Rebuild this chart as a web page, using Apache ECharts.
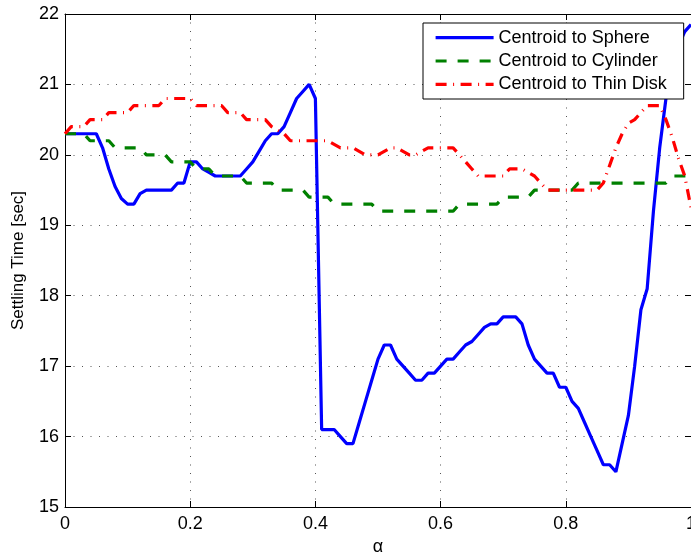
<!DOCTYPE html>
<html>
<head>
<meta charset="utf-8">
<script src="https://cdn.jsdelivr.net/npm/echarts@6/dist/echarts.min.js"></script>
<style>
html,body{margin:0;padding:0;background:#fff;}
#chart{width:691px;height:557px;}
</style>
</head>
<body>
<div id="chart"></div>
<script>
const alpha = [0,0.01,0.02,0.03,0.04,0.05,0.06,0.07,0.08,0.09,
0.10,0.11,0.12,0.13,0.14,0.15,0.16,0.17,0.18,0.19,
0.20,0.21,0.22,0.23,0.24,0.25,0.26,0.27,0.28,0.29,
0.30,0.31,0.32,0.33,0.34,0.35,0.36,0.37,0.38,0.39,
0.40,0.41,0.42,0.43,0.44,0.45,0.46,0.47,0.48,0.49,
0.50,0.51,0.52,0.53,0.54,0.55,0.56,0.57,0.58,0.59,
0.60,0.61,0.62,0.63,0.64,0.65,0.66,0.67,0.68,0.69,
0.70,0.71,0.72,0.73,0.74,0.75,0.76,0.77,0.78,0.79,
0.80,0.81,0.82,0.83,0.84,0.85,0.86,0.87,0.88,0.89,
0.90,0.91,0.92,0.93,0.94,0.95,0.96,0.97,0.98,0.99,1.00];

const sphere = [20.3,20.3,20.3,20.3,20.3,20.3,20.1,19.8,19.55,19.38,
19.3,19.3,19.45,19.5,19.5,19.5,19.5,19.5,19.6,19.6,
19.9,19.9,19.8,19.75,19.7,19.7,19.7,19.7,19.7,19.8,
19.9,20.05,20.2,20.3,20.3,20.4,20.6,20.8,20.9,21.0,
20.8,16.1,16.1,16.1,16.0,15.9,15.9,16.2,16.5,16.8,
17.1,17.3,17.3,17.1,17.0,16.9,16.8,16.8,16.9,16.9,
17.0,17.1,17.1,17.2,17.3,17.35,17.45,17.55,17.6,17.6,
17.7,17.7,17.7,17.6,17.3,17.1,17.0,16.9,16.9,16.7,
16.7,16.5,16.4,16.2,16.0,15.8,15.6,15.6,15.5,15.9,
16.3,17.0,17.8,18.1,19.2,20.1,20.8,21.3,21.55,21.75,21.85];

const cylinder = [20.3,20.3,20.3,20.3,20.2,20.2,20.2,20.2,20.1,20.1,
20.1,20.1,20.1,20.0,20.0,20.0,20.0,19.9,19.9,19.9,
19.9,19.8,19.8,19.8,19.7,19.7,19.7,19.7,19.7,19.6,
19.6,19.6,19.6,19.6,19.5,19.5,19.5,19.5,19.5,19.4,
19.4,19.4,19.4,19.3,19.3,19.3,19.3,19.3,19.3,19.3,
19.2,19.2,19.2,19.2,19.2,19.2,19.2,19.2,19.2,19.2,
19.2,19.2,19.2,19.3,19.3,19.3,19.3,19.3,19.3,19.3,
19.4,19.4,19.4,19.4,19.4,19.5,19.5,19.5,19.5,19.5,
19.5,19.5,19.6,19.6,19.6,19.6,19.6,19.6,19.6,19.6,
19.6,19.6,19.6,19.6,19.6,19.6,19.6,19.7,19.7,19.7,19.7];

const thinDisk = [20.3,20.4,20.4,20.4,20.5,20.5,20.5,20.6,20.6,20.6,
20.6,20.7,20.7,20.7,20.7,20.7,20.8,20.8,20.8,20.8,
20.8,20.7,20.7,20.7,20.7,20.7,20.6,20.6,20.6,20.5,
20.5,20.5,20.5,20.4,20.35,20.3,20.2,20.2,20.2,20.2,
20.2,20.2,20.2,20.15,20.1,20.1,20.1,20.05,20.0,20.0,
20.0,20.05,20.1,20.1,20.05,20.0,20.0,20.05,20.1,20.1,
20.1,20.1,20.1,20.0,19.9,19.8,19.7,19.7,19.7,19.7,
19.7,19.8,19.8,19.8,19.75,19.7,19.6,19.5,19.5,19.5,
19.5,19.5,19.5,19.5,19.5,19.5,19.6,19.85,20.1,20.3,
20.45,20.5,20.6,20.7,20.7,20.7,20.5,20.25,19.95,19.7,19.25];

const seriesNames = ['Centroid to Sphere','Centroid to Cylinder','Centroid to Thin Disk'];
const xTicks = [0,0.2,0.4,0.6,0.8,1];
const yTicks = [15,16,17,18,19,20,21,22];

const FONT = '"Liberation Sans", Arial, Helvetica, sans-serif';
const pairs = ys => alpha.map((a,i)=>[a, ys[i]]);

const gridLine = {show:true, lineStyle:{color:'#555', width:1, type:[1,7.5]}};
const axLine = {show:true, onZero:false, lineStyle:{color:'#000', width:1}};
const axTick = {show:true, inside:true, length:6, lineStyle:{color:'#000', width:1}};

const chart = echarts.init(document.getElementById('chart'), null, {renderer:'canvas'});
chart.setOption({
  animation:false,
  backgroundColor:'#fff',
  grid:{left:65, top:14, width:626, height:493, containLabel:false, outerBoundsMode:'none'},
  xAxis:[{
    type:'value', min:xTicks[0], max:xTicks[xTicks.length-1], interval:0.2, position:'bottom',
    axisLine:axLine, axisTick:axTick, splitLine:gridLine,
    axisLabel:{color:'#000', fontSize:18, fontFamily:FONT, margin:8,
      formatter:v=>String(+v.toFixed(1))},
    name:'α', nameLocation:'middle', nameGap:30,
    nameTextStyle:{color:'#000', fontSize:18, fontFamily:FONT}
  },{
    type:'value', min:0, max:1, interval:0.2, position:'top',
    axisLine:axLine, axisTick:axTick, splitLine:{show:false}, axisLabel:{show:false}
  }],
  yAxis:[{
    type:'value', min:yTicks[0], max:yTicks[yTicks.length-1], interval:1, position:'left',
    axisLine:axLine, axisTick:axTick, splitLine:gridLine,
    axisLabel:{color:'#000', fontSize:18, fontFamily:FONT, margin:6},
    name:'Settling Time [sec]', nameLocation:'middle', nameGap:38,
    nameTextStyle:{color:'#000', fontSize:17, fontFamily:FONT}
  },{
    type:'value', min:15, max:22, interval:1, position:'right',
    axisLine:axLine, axisTick:axTick, splitLine:{show:false}, axisLabel:{show:false}
  }],
  legend:{
    orient:'vertical', left:423, top:23,
    itemWidth:58, itemHeight:18, itemGap:5.4,
    padding:[5.6,17,5.6,11],
    backgroundColor:'#fff', borderColor:'#000', borderWidth:1, borderRadius:0,
    textStyle:{color:'#000', fontSize:18, fontFamily:FONT},
    itemStyle:{opacity:0},
    lineStyle:{width:3.2},
    data:seriesNames
  },
  series:[{
    name:seriesNames[0], type:'line', data:pairs(sphere), symbol:'none',
    lineStyle:{color:'#0000ff', width:3.2, type:'solid'}, itemStyle:{color:'#0000ff'}
  },{
    name:seriesNames[1], type:'line', data:pairs(cylinder), symbol:'none',
    lineStyle:{color:'#008000', width:3.2, type:[11,11]}, itemStyle:{color:'#008000'}
  },{
    name:seriesNames[2], type:'line', data:pairs(thinDisk), symbol:'none',
    lineStyle:{color:'#ff0000', width:3.2, type:[11,6.5,1,6.5]}, itemStyle:{color:'#ff0000'}
  }]
});
</script>
</body>
</html>
